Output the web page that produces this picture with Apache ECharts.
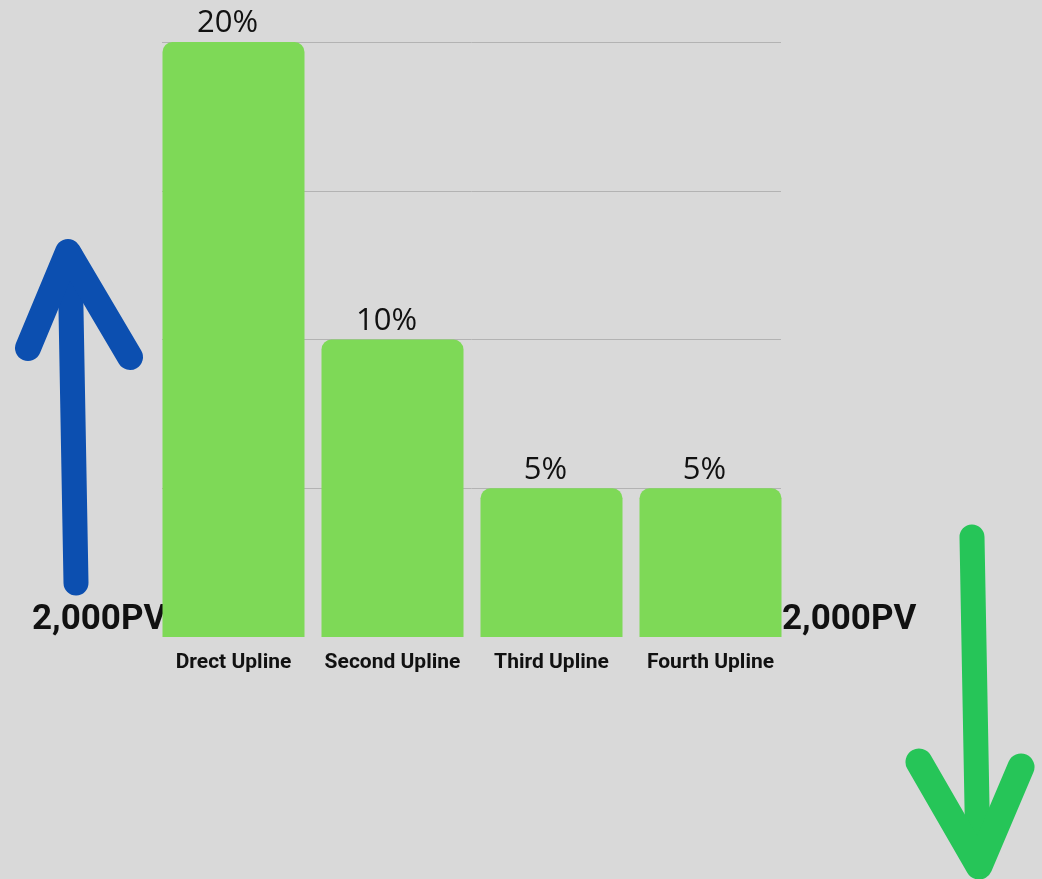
<!DOCTYPE html>
<html>
<head>
<meta charset="utf-8">
<script src="https://cdn.jsdelivr.net/npm/echarts@6/dist/echarts.min.js"></script>
<style>
  html, body { margin: 0; padding: 0; background: #d9d9d9; }
  #chart { width: 1042px; height: 879px; }
</style>
</head>
<body>
<div id="chart"></div>
<script>
  // data
  const categories = ['Drect Upline', 'Second Upline', 'Third Upline', 'Fourth Upline']
  const percents = [20, 10, 5, 5]
  const pvLabel = '2,000PV'

  const chart = echarts.init(document.getElementById('chart'))

  chart.setOption({
    backgroundColor: '#d9d9d9',
    animation: false,
    grid: [
      // grid lines only
      { left: 162, right: 261, top: 42, bottom: 242 },
      // bars
      { left: 154, right: 252, top: 42, bottom: 242 }
    ],
    xAxis: [
      { gridIndex: 0, type: 'category', data: categories, show: false },
      {
        gridIndex: 1,
        type: 'category',
        data: categories,
        axisLine: { show: false },
        axisTick: { show: false },
        axisLabel: {
          interval: 0,
          margin: 15,
          color: '#111',
          fontFamily: 'Roboto',
          fontWeight: 'bold',
          fontSize: 21
        }
      }
    ],
    yAxis: [
      {
        gridIndex: 0,
        type: 'value',
        min: 0,
        max: 20,
        interval: 5,
        axisLabel: { show: false },
        axisLine: { show: false },
        axisTick: { show: false },
        splitLine: {
          lineStyle: {
            // hide the zero line
            color: ['rgba(0,0,0,0)', '#b3b3b3', '#b3b3b3', '#b3b3b3', '#b3b3b3'],
            width: 1
          }
        }
      },
      { gridIndex: 1, type: 'value', min: 0, max: 20, interval: 5, show: false }
    ],
    series: [
      {
        type: 'bar',
        xAxisIndex: 1,
        yAxisIndex: 1,
        data: percents,
        barWidth: 142,
        itemStyle: {
          color: '#7ed957',
          borderRadius: [10, 10, 0, 0]
        },
        label: {
          show: true,
          position: 'top',
          distance: 3,
          offset: [-6, 0],
          formatter: p => p.value + '%',
          color: '#111',
          fontFamily: 'Open Sans',
          fontSize: 31
        }
      }
    ],
    graphic: [
      // blue up arrow
      {
        type: 'polyline',
        shape: { points: [[76, 583], [70, 255]] },
        style: { stroke: '#0c4fb0', lineWidth: 25, lineCap: 'round', fill: null }
      },
      {
        type: 'polyline',
        shape: { points: [[28, 348], [68, 252], [130, 357]] },
        style: { stroke: '#0c4fb0', lineWidth: 26, lineCap: 'round', lineJoin: 'round', fill: null }
      },
      // green down arrow
      {
        type: 'polyline',
        shape: { points: [[972, 537], [978, 860]] },
        style: { stroke: '#26c558', lineWidth: 25, lineCap: 'round', fill: null }
      },
      {
        type: 'polyline',
        shape: { points: [[919, 762], [979, 866], [1021, 767]] },
        style: { stroke: '#26c558', lineWidth: 27, lineCap: 'round', lineJoin: 'round', fill: null }
      },
      // PV labels
      {
        type: 'text',
        left: 32,
        top: 603,
        style: { text: pvLabel, fill: '#111', font: 'bold 35px Roboto' }
      },
      {
        type: 'text',
        left: 782,
        top: 603,
        style: { text: pvLabel, fill: '#111', font: 'bold 35px Roboto' }
      }
    ]
  })
</script>
</body>
</html>
